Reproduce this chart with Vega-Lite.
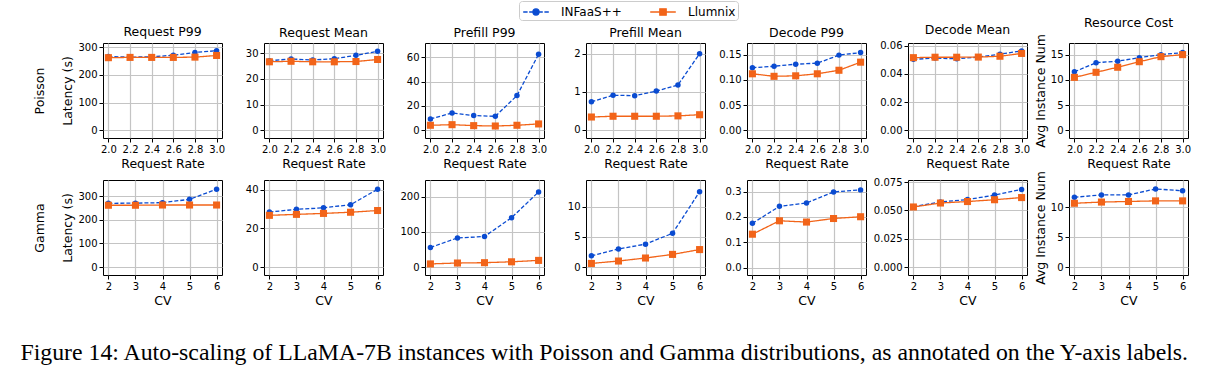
{
"$schema": "https://vega.github.io/schema/vega-lite/v6.json",
"padding": {"left": 19, "top": 0, "right": 5, "bottom": 5},
"data": {"values": [
{"r":"P","m":"rp99","x":2,"s":"INFaaS++","v":266},{"r":"P","m":"rp99","x":2.2,"s":"INFaaS++","v":264},{"r":"P","m":"rp99","x":2.4,"s":"INFaaS++","v":265},{"r":"P","m":"rp99","x":2.6,"s":"INFaaS++","v":271},{"r":"P","m":"rp99","x":2.8,"s":"INFaaS++","v":281},{"r":"P","m":"rp99","x":3,"s":"INFaaS++","v":287},
{"r":"P","m":"rp99","x":2,"s":"Llumnix","v":262},{"r":"P","m":"rp99","x":2.2,"s":"Llumnix","v":263},{"r":"P","m":"rp99","x":2.4,"s":"Llumnix","v":263},{"r":"P","m":"rp99","x":2.6,"s":"Llumnix","v":263},{"r":"P","m":"rp99","x":2.8,"s":"Llumnix","v":264},{"r":"P","m":"rp99","x":3,"s":"Llumnix","v":270},
{"r":"P","m":"rmean","x":2,"s":"INFaaS++","v":27.0},{"r":"P","m":"rmean","x":2.2,"s":"INFaaS++","v":27.7},{"r":"P","m":"rmean","x":2.4,"s":"INFaaS++","v":27.3},{"r":"P","m":"rmean","x":2.6,"s":"INFaaS++","v":27.8},{"r":"P","m":"rmean","x":2.8,"s":"INFaaS++","v":29.1},{"r":"P","m":"rmean","x":3,"s":"INFaaS++","v":30.7},
{"r":"P","m":"rmean","x":2,"s":"Llumnix","v":26.6},{"r":"P","m":"rmean","x":2.2,"s":"Llumnix","v":26.8},{"r":"P","m":"rmean","x":2.4,"s":"Llumnix","v":26.6},{"r":"P","m":"rmean","x":2.6,"s":"Llumnix","v":26.6},{"r":"P","m":"rmean","x":2.8,"s":"Llumnix","v":26.7},{"r":"P","m":"rmean","x":3,"s":"Llumnix","v":27.5},
{"r":"P","m":"pp99","x":2,"s":"INFaaS++","v":9.1},{"r":"P","m":"pp99","x":2.2,"s":"INFaaS++","v":14.0},{"r":"P","m":"pp99","x":2.4,"s":"INFaaS++","v":11.9},{"r":"P","m":"pp99","x":2.6,"s":"INFaaS++","v":11.3},{"r":"P","m":"pp99","x":2.8,"s":"INFaaS++","v":28.4},{"r":"P","m":"pp99","x":3,"s":"INFaaS++","v":62.5},
{"r":"P","m":"pp99","x":2,"s":"Llumnix","v":3.9},{"r":"P","m":"pp99","x":2.2,"s":"Llumnix","v":4.4},{"r":"P","m":"pp99","x":2.4,"s":"Llumnix","v":3.6},{"r":"P","m":"pp99","x":2.6,"s":"Llumnix","v":3.3},{"r":"P","m":"pp99","x":2.8,"s":"Llumnix","v":3.9},{"r":"P","m":"pp99","x":3,"s":"Llumnix","v":5.0},
{"r":"P","m":"pmean","x":2,"s":"INFaaS++","v":0.74},{"r":"P","m":"pmean","x":2.2,"s":"INFaaS++","v":0.91},{"r":"P","m":"pmean","x":2.4,"s":"INFaaS++","v":0.90},{"r":"P","m":"pmean","x":2.6,"s":"INFaaS++","v":1.02},{"r":"P","m":"pmean","x":2.8,"s":"INFaaS++","v":1.18},{"r":"P","m":"pmean","x":3,"s":"INFaaS++","v":2.0},
{"r":"P","m":"pmean","x":2,"s":"Llumnix","v":0.34},{"r":"P","m":"pmean","x":2.2,"s":"Llumnix","v":0.36},{"r":"P","m":"pmean","x":2.4,"s":"Llumnix","v":0.36},{"r":"P","m":"pmean","x":2.6,"s":"Llumnix","v":0.36},{"r":"P","m":"pmean","x":2.8,"s":"Llumnix","v":0.37},{"r":"P","m":"pmean","x":3,"s":"Llumnix","v":0.40},
{"r":"P","m":"dp99","x":2,"s":"INFaaS++","v":0.124},{"r":"P","m":"dp99","x":2.2,"s":"INFaaS++","v":0.127},{"r":"P","m":"dp99","x":2.4,"s":"INFaaS++","v":0.131},{"r":"P","m":"dp99","x":2.6,"s":"INFaaS++","v":0.133},{"r":"P","m":"dp99","x":2.8,"s":"INFaaS++","v":0.149},{"r":"P","m":"dp99","x":3,"s":"INFaaS++","v":0.154},
{"r":"P","m":"dp99","x":2,"s":"Llumnix","v":0.112},{"r":"P","m":"dp99","x":2.2,"s":"Llumnix","v":0.107},{"r":"P","m":"dp99","x":2.4,"s":"Llumnix","v":0.108},{"r":"P","m":"dp99","x":2.6,"s":"Llumnix","v":0.112},{"r":"P","m":"dp99","x":2.8,"s":"Llumnix","v":0.119},{"r":"P","m":"dp99","x":3,"s":"Llumnix","v":0.135},
{"r":"P","m":"dmean","x":2,"s":"INFaaS++","v":0.0503},{"r":"P","m":"dmean","x":2.2,"s":"INFaaS++","v":0.0512},{"r":"P","m":"dmean","x":2.4,"s":"INFaaS++","v":0.0507},{"r":"P","m":"dmean","x":2.6,"s":"INFaaS++","v":0.0519},{"r":"P","m":"dmean","x":2.8,"s":"INFaaS++","v":0.0540},{"r":"P","m":"dmean","x":3,"s":"INFaaS++","v":0.0563},
{"r":"P","m":"dmean","x":2,"s":"Llumnix","v":0.0515},{"r":"P","m":"dmean","x":2.2,"s":"Llumnix","v":0.0518},{"r":"P","m":"dmean","x":2.4,"s":"Llumnix","v":0.0518},{"r":"P","m":"dmean","x":2.6,"s":"Llumnix","v":0.0519},{"r":"P","m":"dmean","x":2.8,"s":"Llumnix","v":0.0525},{"r":"P","m":"dmean","x":3,"s":"Llumnix","v":0.0545},
{"r":"P","m":"cost","x":2,"s":"INFaaS++","v":11.6},{"r":"P","m":"cost","x":2.2,"s":"INFaaS++","v":13.4},{"r":"P","m":"cost","x":2.4,"s":"INFaaS++","v":13.7},{"r":"P","m":"cost","x":2.6,"s":"INFaaS++","v":14.4},{"r":"P","m":"cost","x":2.8,"s":"INFaaS++","v":15.0},{"r":"P","m":"cost","x":3,"s":"INFaaS++","v":15.4},
{"r":"P","m":"cost","x":2,"s":"Llumnix","v":10.5},{"r":"P","m":"cost","x":2.2,"s":"Llumnix","v":11.5},{"r":"P","m":"cost","x":2.4,"s":"Llumnix","v":12.5},{"r":"P","m":"cost","x":2.6,"s":"Llumnix","v":13.6},{"r":"P","m":"cost","x":2.8,"s":"Llumnix","v":14.6},{"r":"P","m":"cost","x":3,"s":"Llumnix","v":15.0},
{"r":"G","m":"rp99","x":2,"s":"INFaaS++","v":270},{"r":"G","m":"rp99","x":3,"s":"INFaaS++","v":271},{"r":"G","m":"rp99","x":4,"s":"INFaaS++","v":273},{"r":"G","m":"rp99","x":5,"s":"INFaaS++","v":287},{"r":"G","m":"rp99","x":6,"s":"INFaaS++","v":330},
{"r":"G","m":"rp99","x":2,"s":"Llumnix","v":262},{"r":"G","m":"rp99","x":3,"s":"Llumnix","v":262},{"r":"G","m":"rp99","x":4,"s":"Llumnix","v":263},{"r":"G","m":"rp99","x":5,"s":"Llumnix","v":263},{"r":"G","m":"rp99","x":6,"s":"Llumnix","v":263},
{"r":"G","m":"rmean","x":2,"s":"INFaaS++","v":28.5},{"r":"G","m":"rmean","x":3,"s":"INFaaS++","v":29.9},{"r":"G","m":"rmean","x":4,"s":"INFaaS++","v":30.7},{"r":"G","m":"rmean","x":5,"s":"INFaaS++","v":32.3},{"r":"G","m":"rmean","x":6,"s":"INFaaS++","v":40.3},
{"r":"G","m":"rmean","x":2,"s":"Llumnix","v":26.8},{"r":"G","m":"rmean","x":3,"s":"Llumnix","v":27.3},{"r":"G","m":"rmean","x":4,"s":"Llumnix","v":27.8},{"r":"G","m":"rmean","x":5,"s":"Llumnix","v":28.4},{"r":"G","m":"rmean","x":6,"s":"Llumnix","v":29.3},
{"r":"G","m":"pp99","x":2,"s":"INFaaS++","v":55.7},{"r":"G","m":"pp99","x":3,"s":"INFaaS++","v":83},{"r":"G","m":"pp99","x":4,"s":"INFaaS++","v":87},{"r":"G","m":"pp99","x":5,"s":"INFaaS++","v":140.6},{"r":"G","m":"pp99","x":6,"s":"INFaaS++","v":214},
{"r":"G","m":"pp99","x":2,"s":"Llumnix","v":9},{"r":"G","m":"pp99","x":3,"s":"Llumnix","v":11.5},{"r":"G","m":"pp99","x":4,"s":"Llumnix","v":12.5},{"r":"G","m":"pp99","x":5,"s":"Llumnix","v":15},{"r":"G","m":"pp99","x":6,"s":"Llumnix","v":19},
{"r":"G","m":"pmean","x":2,"s":"INFaaS++","v":1.86},{"r":"G","m":"pmean","x":3,"s":"INFaaS++","v":3.0},{"r":"G","m":"pmean","x":4,"s":"INFaaS++","v":3.8},{"r":"G","m":"pmean","x":5,"s":"INFaaS++","v":5.6},{"r":"G","m":"pmean","x":6,"s":"INFaaS++","v":12.5},
{"r":"G","m":"pmean","x":2,"s":"Llumnix","v":0.6},{"r":"G","m":"pmean","x":3,"s":"Llumnix","v":1.0},{"r":"G","m":"pmean","x":4,"s":"Llumnix","v":1.5},{"r":"G","m":"pmean","x":5,"s":"Llumnix","v":2.1},{"r":"G","m":"pmean","x":6,"s":"Llumnix","v":2.9},
{"r":"G","m":"dp99","x":2,"s":"INFaaS++","v":0.175},{"r":"G","m":"dp99","x":3,"s":"INFaaS++","v":0.242},{"r":"G","m":"dp99","x":4,"s":"INFaaS++","v":0.255},{"r":"G","m":"dp99","x":5,"s":"INFaaS++","v":0.299},{"r":"G","m":"dp99","x":6,"s":"INFaaS++","v":0.307},
{"r":"G","m":"dp99","x":2,"s":"Llumnix","v":0.132},{"r":"G","m":"dp99","x":3,"s":"Llumnix","v":0.185},{"r":"G","m":"dp99","x":4,"s":"Llumnix","v":0.180},{"r":"G","m":"dp99","x":5,"s":"Llumnix","v":0.194},{"r":"G","m":"dp99","x":6,"s":"Llumnix","v":0.201},
{"r":"G","m":"dmean","x":2,"s":"INFaaS++","v":0.0533},{"r":"G","m":"dmean","x":3,"s":"INFaaS++","v":0.0575},{"r":"G","m":"dmean","x":4,"s":"INFaaS++","v":0.0595},{"r":"G","m":"dmean","x":5,"s":"INFaaS++","v":0.0635},{"r":"G","m":"dmean","x":6,"s":"INFaaS++","v":0.0685},
{"r":"G","m":"dmean","x":2,"s":"Llumnix","v":0.0530},{"r":"G","m":"dmean","x":3,"s":"Llumnix","v":0.0565},{"r":"G","m":"dmean","x":4,"s":"Llumnix","v":0.0578},{"r":"G","m":"dmean","x":5,"s":"Llumnix","v":0.0594},{"r":"G","m":"dmean","x":6,"s":"Llumnix","v":0.0613},
{"r":"G","m":"cost","x":2,"s":"INFaaS++","v":11.7},{"r":"G","m":"cost","x":3,"s":"INFaaS++","v":12.1},{"r":"G","m":"cost","x":4,"s":"INFaaS++","v":12.1},{"r":"G","m":"cost","x":5,"s":"INFaaS++","v":13.1},{"r":"G","m":"cost","x":6,"s":"INFaaS++","v":12.8},
{"r":"G","m":"cost","x":2,"s":"Llumnix","v":10.7},{"r":"G","m":"cost","x":3,"s":"Llumnix","v":10.9},{"r":"G","m":"cost","x":4,"s":"Llumnix","v":11.0},{"r":"G","m":"cost","x":5,"s":"Llumnix","v":11.1},{"r":"G","m":"cost","x":6,"s":"Llumnix","v":11.1}
]},
"title": {"text": "Figure 14: Auto-scaling of LLaMA-7B instances with Poisson and Gamma distributions, as annotated on the Y-axis labels.", "orient": "bottom", "anchor": "middle", "font": "Liberation Serif", "fontSize": 23.8, "fontWeight": "normal", "color": "black", "offset": 34, "dx": -8},
"bounds": "flush",
"spacing": 42,
"columns": 7,
"resolve": {"scale": {"x": "independent", "y": "independent"}},
"concat": [
{"title": "Request P99", "transform": [{"filter": "datum.r=='P' && datum.m=='rp99'"}],
 "encoding": {"x": {"field": "x", "type": "quantitative", "scale": {"domain": [1.95, 3.05], "nice": false, "zero": false}, "axis": {"values": [2, 2.2, 2.4, 2.6, 2.8, 3], "format": ".1f", "title": "Request Rate"}},
  "y": {"field": "v", "type": "quantitative", "scale": {"domain": [-28, 315], "nice": false, "zero": false}, "axis": {"values": [0, 100, 200, 300], "title": ["Poisson", "Latency (s)"], "titleLineHeight": 28}},
  "color": {"field": "s", "type": "nominal", "legend": {"orient": "none", "legendX": 416, "legendY": -42, "direction": "horizontal", "title": null, "labelFontSize": 12, "labelFont": "DejaVu Sans", "labelColor": "black", "symbolSize": 256, "symbolOffset": 6, "symbolStrokeWidth": 1.3, "columnPadding": 25, "labelOffset": 16, "strokeColor": "#cccccc", "cornerRadius": 3, "padding": 2,
    "encode": {"symbols": {"update": {"shape": {"signal": "datum.value == 'INFaaS++' ? 'M-1.6,0L-1.05,0M-0.85,0L-0.4,0M0.4,0L0.85,0M1.05,0L1.6,0M-0.38,0A0.38,0.38,0,1,1,0.38,0A0.38,0.38,0,1,1,-0.38,0Z' : 'M-1.6,0L1.6,0M-0.4,-0.4L0.4,-0.4L0.4,0.4L-0.4,0.4Z'"}, "fill": {"scale": "color", "field": "value"}, "stroke": {"scale": "color", "field": "value"}, "fillOpacity": {"value": 1}, "strokeOpacity": {"value": 1}, "opacity": {"value": 1}}}}}}},
 "layer": [
  {"mark": {"type": "line", "strokeWidth": 1.3}, "encoding": {"strokeDash": {"field": "s", "type": "nominal", "legend": null, "scale": {"range": [[4, 2], [1, 0]]}}}},
  {"mark": {"type": "point", "filled": true, "opacity": 1}, "encoding": {"shape": {"field": "s", "type": "nominal", "legend": null, "scale": {"range": ["circle", "square"]}}, "size": {"field": "s", "type": "ordinal", "legend": null, "scale": {"range": [30, 50]}}}}
 ]},
{"title": "Request Mean", "transform": [{"filter": "datum.r=='P' && datum.m=='rmean'"}],
 "encoding": {"x": {"field": "x", "type": "quantitative", "scale": {"domain": [1.95, 3.05], "nice": false, "zero": false}, "axis": {"values": [2, 2.2, 2.4, 2.6, 2.8, 3], "format": ".1f", "title": "Request Rate"}},
  "y": {"field": "v", "type": "quantitative", "scale": {"domain": [-3, 33.9], "nice": false, "zero": false}, "axis": {"values": [0, 10, 20, 30], "title": null}},
  "color": {"field": "s", "type": "nominal"}},
 "layer": [
  {"mark": {"type": "line", "strokeWidth": 1.3}, "encoding": {"strokeDash": {"field": "s", "type": "nominal", "legend": null}}},
  {"mark": {"type": "point", "filled": true, "opacity": 1}, "encoding": {"shape": {"field": "s", "type": "nominal", "legend": null}, "size": {"field": "s", "type": "ordinal", "legend": null}}}
 ]},
{"title": "Prefill P99", "transform": [{"filter": "datum.r=='P' && datum.m=='pp99'"}],
 "encoding": {"x": {"field": "x", "type": "quantitative", "scale": {"domain": [1.95, 3.05], "nice": false, "zero": false}, "axis": {"values": [2, 2.2, 2.4, 2.6, 2.8, 3], "format": ".1f", "title": "Request Rate"}},
  "y": {"field": "v", "type": "quantitative", "scale": {"domain": [-6.6, 71.8], "nice": false, "zero": false}, "axis": {"values": [0, 20, 40, 60], "title": null}},
  "color": {"field": "s", "type": "nominal"}},
 "layer": [
  {"mark": {"type": "line", "strokeWidth": 1.3}, "encoding": {"strokeDash": {"field": "s", "type": "nominal", "legend": null}}},
  {"mark": {"type": "point", "filled": true, "opacity": 1}, "encoding": {"shape": {"field": "s", "type": "nominal", "legend": null}, "size": {"field": "s", "type": "ordinal", "legend": null}}}
 ]},
{"title": "Prefill Mean", "transform": [{"filter": "datum.r=='P' && datum.m=='pmean'"}],
 "encoding": {"x": {"field": "x", "type": "quantitative", "scale": {"domain": [1.95, 3.05], "nice": false, "zero": false}, "axis": {"values": [2, 2.2, 2.4, 2.6, 2.8, 3], "format": ".1f", "title": "Request Rate"}},
  "y": {"field": "v", "type": "quantitative", "scale": {"domain": [-0.21, 2.28], "nice": false, "zero": false}, "axis": {"values": [0, 1, 2], "format": "d", "title": null}},
  "color": {"field": "s", "type": "nominal"}},
 "layer": [
  {"mark": {"type": "line", "strokeWidth": 1.3}, "encoding": {"strokeDash": {"field": "s", "type": "nominal", "legend": null}}},
  {"mark": {"type": "point", "filled": true, "opacity": 1}, "encoding": {"shape": {"field": "s", "type": "nominal", "legend": null}, "size": {"field": "s", "type": "ordinal", "legend": null}}}
 ]},
{"title": "Decode P99", "transform": [{"filter": "datum.r=='P' && datum.m=='dp99'"}],
 "encoding": {"x": {"field": "x", "type": "quantitative", "scale": {"domain": [1.95, 3.05], "nice": false, "zero": false}, "axis": {"values": [2, 2.2, 2.4, 2.6, 2.8, 3], "format": ".1f", "title": "Request Rate"}},
  "y": {"field": "v", "type": "quantitative", "scale": {"domain": [-0.0152, 0.173], "nice": false, "zero": false}, "axis": {"values": [0, 0.05, 0.1, 0.15], "format": ".2f", "title": null}},
  "color": {"field": "s", "type": "nominal"}},
 "layer": [
  {"mark": {"type": "line", "strokeWidth": 1.3}, "encoding": {"strokeDash": {"field": "s", "type": "nominal", "legend": null}}},
  {"mark": {"type": "point", "filled": true, "opacity": 1}, "encoding": {"shape": {"field": "s", "type": "nominal", "legend": null}, "size": {"field": "s", "type": "ordinal", "legend": null}}}
 ]},
{"title": "Decode Mean", "transform": [{"filter": "datum.r=='P' && datum.m=='dmean'"}],
 "encoding": {"x": {"field": "x", "type": "quantitative", "scale": {"domain": [1.95, 3.05], "nice": false, "zero": false}, "axis": {"values": [2, 2.2, 2.4, 2.6, 2.8, 3], "format": ".1f", "title": "Request Rate"}},
  "y": {"field": "v", "type": "quantitative", "scale": {"domain": [-0.0055, 0.0619], "nice": false, "zero": false}, "axis": {"values": [0, 0.02, 0.04, 0.06], "format": ".2f", "title": null}},
  "color": {"field": "s", "type": "nominal"}},
 "layer": [
  {"mark": {"type": "line", "strokeWidth": 1.3}, "encoding": {"strokeDash": {"field": "s", "type": "nominal", "legend": null}}},
  {"mark": {"type": "point", "filled": true, "opacity": 1}, "encoding": {"shape": {"field": "s", "type": "nominal", "legend": null}, "size": {"field": "s", "type": "ordinal", "legend": null}}}
 ]},
{"title": "Resource Cost", "transform": [{"filter": "datum.r=='P' && datum.m=='cost'"}],
 "encoding": {"x": {"field": "x", "type": "quantitative", "scale": {"domain": [1.95, 3.05], "nice": false, "zero": false}, "axis": {"values": [2, 2.2, 2.4, 2.6, 2.8, 3], "format": ".1f", "title": "Request Rate"}},
  "y": {"field": "v", "type": "quantitative", "scale": {"domain": [-1.5, 17.3], "nice": false, "zero": false}, "axis": {"values": [0, 5, 10, 15], "title": "Avg Instance Num"}},
  "color": {"field": "s", "type": "nominal"}},
 "layer": [
  {"mark": {"type": "line", "strokeWidth": 1.3}, "encoding": {"strokeDash": {"field": "s", "type": "nominal", "legend": null}}},
  {"mark": {"type": "point", "filled": true, "opacity": 1}, "encoding": {"shape": {"field": "s", "type": "nominal", "legend": null}, "size": {"field": "s", "type": "ordinal", "legend": null}}}
 ]},
{"transform": [{"filter": "datum.r=='G' && datum.m=='rp99'"}],
 "encoding": {"x": {"field": "x", "type": "quantitative", "scale": {"domain": [1.8, 6.2], "nice": false, "zero": false}, "axis": {"values": [2, 3, 4, 5, 6], "format": "d", "title": "CV"}},
  "y": {"field": "v", "type": "quantitative", "scale": {"domain": [-33.6, 369], "nice": false, "zero": false}, "axis": {"values": [0, 100, 200, 300], "title": ["Gamma", "Latency (s)"], "titleLineHeight": 28}},
  "color": {"field": "s", "type": "nominal"}},
 "layer": [
  {"mark": {"type": "line", "strokeWidth": 1.3}, "encoding": {"strokeDash": {"field": "s", "type": "nominal", "legend": null}}},
  {"mark": {"type": "point", "filled": true, "opacity": 1}, "encoding": {"shape": {"field": "s", "type": "nominal", "legend": null}, "size": {"field": "s", "type": "ordinal", "legend": null}}}
 ]},
{"transform": [{"filter": "datum.r=='G' && datum.m=='rmean'"}],
 "encoding": {"x": {"field": "x", "type": "quantitative", "scale": {"domain": [1.8, 6.2], "nice": false, "zero": false}, "axis": {"values": [2, 3, 4, 5, 6], "format": "d", "title": "CV"}},
  "y": {"field": "v", "type": "quantitative", "scale": {"domain": [-4.1, 45.1], "nice": false, "zero": false}, "axis": {"values": [0, 20, 40], "title": null}},
  "color": {"field": "s", "type": "nominal"}},
 "layer": [
  {"mark": {"type": "line", "strokeWidth": 1.3}, "encoding": {"strokeDash": {"field": "s", "type": "nominal", "legend": null}}},
  {"mark": {"type": "point", "filled": true, "opacity": 1}, "encoding": {"shape": {"field": "s", "type": "nominal", "legend": null}, "size": {"field": "s", "type": "ordinal", "legend": null}}}
 ]},
{"transform": [{"filter": "datum.r=='G' && datum.m=='pp99'"}],
 "encoding": {"x": {"field": "x", "type": "quantitative", "scale": {"domain": [1.8, 6.2], "nice": false, "zero": false}, "axis": {"values": [2, 3, 4, 5, 6], "format": "d", "title": "CV"}},
  "y": {"field": "v", "type": "quantitative", "scale": {"domain": [-22.6, 248], "nice": false, "zero": false}, "axis": {"values": [0, 100, 200], "title": null}},
  "color": {"field": "s", "type": "nominal"}},
 "layer": [
  {"mark": {"type": "line", "strokeWidth": 1.3}, "encoding": {"strokeDash": {"field": "s", "type": "nominal", "legend": null}}},
  {"mark": {"type": "point", "filled": true, "opacity": 1}, "encoding": {"shape": {"field": "s", "type": "nominal", "legend": null}, "size": {"field": "s", "type": "ordinal", "legend": null}}}
 ]},
{"transform": [{"filter": "datum.r=='G' && datum.m=='pmean'"}],
 "encoding": {"x": {"field": "x", "type": "quantitative", "scale": {"domain": [1.8, 6.2], "nice": false, "zero": false}, "axis": {"values": [2, 3, 4, 5, 6], "format": "d", "title": "CV"}},
  "y": {"field": "v", "type": "quantitative", "scale": {"domain": [-1.32, 14.45], "nice": false, "zero": false}, "axis": {"values": [0, 5, 10], "title": null}},
  "color": {"field": "s", "type": "nominal"}},
 "layer": [
  {"mark": {"type": "line", "strokeWidth": 1.3}, "encoding": {"strokeDash": {"field": "s", "type": "nominal", "legend": null}}},
  {"mark": {"type": "point", "filled": true, "opacity": 1}, "encoding": {"shape": {"field": "s", "type": "nominal", "legend": null}, "size": {"field": "s", "type": "ordinal", "legend": null}}}
 ]},
{"transform": [{"filter": "datum.r=='G' && datum.m=='dp99'"}],
 "encoding": {"x": {"field": "x", "type": "quantitative", "scale": {"domain": [1.8, 6.2], "nice": false, "zero": false}, "axis": {"values": [2, 3, 4, 5, 6], "format": "d", "title": "CV"}},
  "y": {"field": "v", "type": "quantitative", "scale": {"domain": [-0.029, 0.346], "nice": false, "zero": false}, "axis": {"values": [0, 0.1, 0.2, 0.3], "format": ".1f", "title": null}},
  "color": {"field": "s", "type": "nominal"}},
 "layer": [
  {"mark": {"type": "line", "strokeWidth": 1.3}, "encoding": {"strokeDash": {"field": "s", "type": "nominal", "legend": null}}},
  {"mark": {"type": "point", "filled": true, "opacity": 1}, "encoding": {"shape": {"field": "s", "type": "nominal", "legend": null}, "size": {"field": "s", "type": "ordinal", "legend": null}}}
 ]},
{"transform": [{"filter": "datum.r=='G' && datum.m=='dmean'"}],
 "encoding": {"x": {"field": "x", "type": "quantitative", "scale": {"domain": [1.8, 6.2], "nice": false, "zero": false}, "axis": {"values": [2, 3, 4, 5, 6], "format": "d", "title": "CV"}},
  "y": {"field": "v", "type": "quantitative", "scale": {"domain": [-0.007, 0.0768], "nice": false, "zero": false}, "axis": {"values": [0, 0.025, 0.05, 0.075], "format": ".3f", "title": null}},
  "color": {"field": "s", "type": "nominal"}},
 "layer": [
  {"mark": {"type": "line", "strokeWidth": 1.3}, "encoding": {"strokeDash": {"field": "s", "type": "nominal", "legend": null}}},
  {"mark": {"type": "point", "filled": true, "opacity": 1}, "encoding": {"shape": {"field": "s", "type": "nominal", "legend": null}, "size": {"field": "s", "type": "ordinal", "legend": null}}}
 ]},
{"transform": [{"filter": "datum.r=='G' && datum.m=='cost'"}],
 "encoding": {"x": {"field": "x", "type": "quantitative", "scale": {"domain": [1.8, 6.2], "nice": false, "zero": false}, "axis": {"values": [2, 3, 4, 5, 6], "format": "d", "title": "CV"}},
  "y": {"field": "v", "type": "quantitative", "scale": {"domain": [-1.33, 14.6], "nice": false, "zero": false}, "axis": {"values": [0, 5, 10], "title": "Avg Instance Num"}},
  "color": {"field": "s", "type": "nominal"}},
 "layer": [
  {"mark": {"type": "line", "strokeWidth": 1.3}, "encoding": {"strokeDash": {"field": "s", "type": "nominal", "legend": null}}},
  {"mark": {"type": "point", "filled": true, "opacity": 1}, "encoding": {"shape": {"field": "s", "type": "nominal", "legend": null}, "size": {"field": "s", "type": "ordinal", "legend": null}}}
 ]}
],
"config": {
 "view": {"continuousWidth": 119, "continuousHeight": 95, "stroke": "black", "strokeWidth": 1},
 "font": "DejaVu Sans",
 "axis": {"labelFont": "DejaVu Sans", "labelFontSize": 10, "labelColor": "black", "titleFont": "DejaVu Sans", "titleFontSize": 12.5, "titleFontWeight": "normal", "titleColor": "black", "tickColor": "black", "tickSize": 4, "domain": false, "gridColor": "#c4c4c4", "gridWidth": 1.2, "labelPadding": 2, "titlePadding": 3},
 "axisX": {"labelAngle": 0},
 "title": {"font": "DejaVu Sans", "fontSize": 12.5, "fontWeight": "normal", "color": "black", "offset": 4},
 "range": {"category": ["#0a4bd1", "#f26419"]}
}
}
